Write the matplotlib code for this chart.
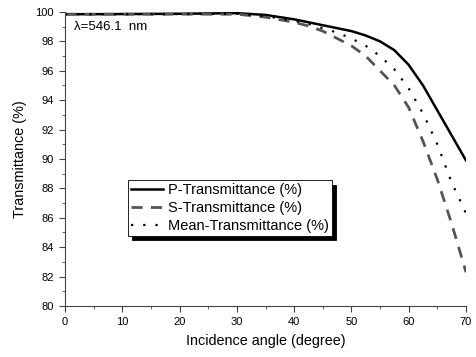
import matplotlib
matplotlib.use("Agg")
import matplotlib.pyplot as plt
from matplotlib.ticker import MultipleLocator

# incidence angle (degree)
angle = [0, 5, 10, 15, 20, 25, 30, 35, 40, 42.5, 45, 47.5, 50, 52.5, 55,
         57.5, 60, 62.5, 65, 67.5, 70]
# transmittance (%)
p_trans = [99.85, 99.85, 99.86, 99.87, 99.88, 99.9, 99.92, 99.8, 99.5, 99.3,
           99.1, 98.9, 98.7, 98.4, 98.0, 97.4, 96.4, 95.0, 93.3, 91.6, 89.9]
s_trans = [99.85, 99.85, 99.85, 99.85, 99.85, 99.85, 99.85, 99.65, 99.3, 99.05,
           98.7, 98.2, 97.7, 97.0, 96.0, 95.0, 93.5, 91.2, 88.6, 85.6, 82.3]
m_trans = [99.85, 99.85, 99.85, 99.86, 99.86, 99.87, 99.88, 99.72, 99.4, 99.2,
           98.9, 98.6, 98.2, 97.7, 97.0, 96.1, 94.8, 93.1, 91.0, 88.4, 86.3]

plt.rcParams['font.family'] = ['Liberation Sans', 'DejaVu Sans']

fig = plt.figure(figsize=(4.76, 3.57), dpi=100)
ax = fig.add_axes([0.1366, 0.1429, 0.8424, 0.8235])

ax.plot(angle, p_trans, color='black', lw=1.8, label='P-Transmittance (%)')
ax.plot(angle, s_trans, color='#555555', lw=2.0, dashes=(4, 3),
        label='S-Transmittance (%)')
ax.plot(angle, m_trans, color='black', lw=1.6, dashes=(1, 4.5),
        label='Mean-Transmittance (%)')

ax.set_xlim(0, 70)
ax.set_ylim(80, 100)
ax.xaxis.set_major_locator(MultipleLocator(10))
ax.xaxis.set_minor_locator(MultipleLocator(5))
ax.yaxis.set_major_locator(MultipleLocator(2))
ax.yaxis.set_minor_locator(MultipleLocator(1))
ax.tick_params(which='both', direction='out', labelsize=8, color='#444444',
               pad=4)
ax.tick_params(which='major', length=4)
ax.tick_params(which='minor', length=2.5)
ax.spines['top'].set_visible(False)
ax.spines['right'].set_visible(False)
for s in ('left', 'bottom'):
    ax.spines[s].set_color('#444444')

ax.set_xlabel('Incidence angle (degree)', fontsize=10.4, labelpad=5)
ax.set_ylabel('Transmittance (%)', fontsize=10.4, labelpad=6)

ax.text(1.6, 98.98, 'λ=546.1  nm', fontsize=9.5, va='center')

leg = ax.legend(loc='upper left', bbox_to_anchor=(0.157, 0.427), fontsize=10.5,
                fancybox=False, edgecolor='black', framealpha=1,
                handlelength=2.2, handletextpad=0.35, borderpad=0.2,
                labelspacing=0.27, borderaxespad=0,
                shadow={'color': 'black', 'alpha': 1, 'ox': 3, 'oy': -3})
leg.get_frame().set_linewidth(0.6)

fig.savefig('out.png', dpi=100)
